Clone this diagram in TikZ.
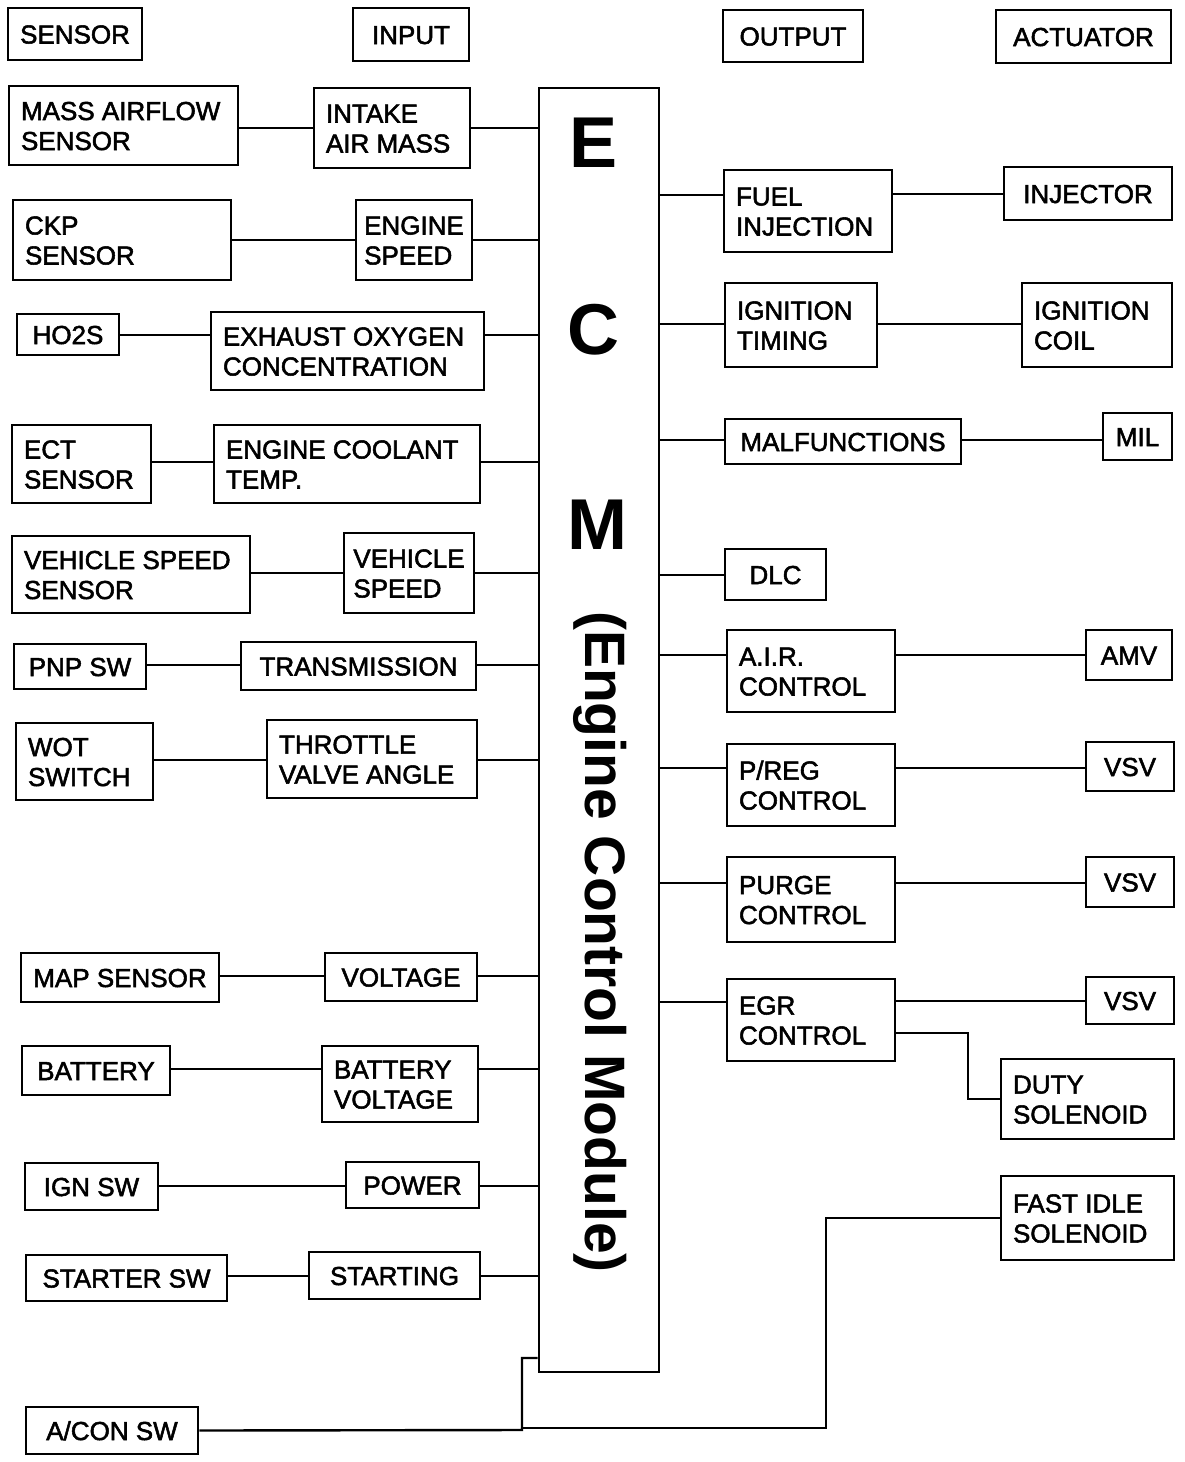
\documentclass[tikz,border=0pt]{standalone}
\usepackage{fontspec}
\setmainfont{Liberation Sans}
\newfontfamily\bxfont[FakeBold=2]{Liberation Sans}
\newcommand\bxn[7][l]{%
  \pgfmathsetlengthmacro\bw{#5-#3-24}%
  \node[bx, minimum width={#5-#3}, minimum height={#6-#4}] (#2) at ({(#3+#5)/2},{(#4+#6)/2})
    {\raisebox{-3.5pt}[\height][\depth]{\makebox[\bw][#1]{\begin{tabular}{@{}l@{}}#7\end{tabular}}}};}
\begin{document}
\begin{tikzpicture}[x=1pt,y=-1pt,
  bx/.style={draw, line width=2.8pt, inner sep=0pt, font=\bxfont\fontsize{26}{30}\selectfont},
  ln/.style={line width=2.4pt},
  big/.style={font=\bfseries\fontsize{72}{72}\selectfont, inner sep=0pt}]
\useasboundingbox (0,0) rectangle (1184,1462);
\fill[white] (0,0) rectangle (1184,1462);

% headers
\bxn[c]{hs}{8}{8}{142}{60}{SENSOR}
\bxn[c]{hi}{353}{8}{469}{61}{INPUT}
\bxn[c]{ho}{723}{10}{863}{62}{OUTPUT}
\bxn[c]{ha}{996}{10}{1171}{63}{ACTUATOR}

% ECM
\node[draw, line width=2.8pt, minimum width=120, minimum height=1284, inner sep=0pt] (ecm) at (599,730) {};
\node[big] (le) at (594,143) {E};
\node[big] (lc) at (593,330) {C};
\node[big] (lm) at (597,525) {M};
\node[rotate=-90, font=\bfseries\fontsize{57}{60}\selectfont, inner sep=0pt] (lt) at (600,942) {(Engine Control Module)};

% left side: sensors and inputs
\bxn{maf}{9}{86}{238}{165}{MASS AIRFLOW\\SENSOR}
\bxn{iam}{314}{88}{470}{168}{INTAKE\\AIR MASS}
\bxn{ckp}{13}{200}{231}{280}{CKP\\SENSOR}
\bxn[c]{esp}{356}{200}{472}{280}{ENGINE\\SPEED}
\bxn[c]{hos}{17}{314}{119}{355}{HO2S}
\bxn{exo}{211}{312}{484}{390}{EXHAUST OXYGEN\\CONCENTRATION}
\bxn{ect}{12}{425}{151}{503}{ECT\\SENSOR}
\bxn{ecl}{214}{425}{480}{503}{ENGINE COOLANT\\TEMP.}
\bxn{vss}{12}{536}{250}{613}{VEHICLE SPEED\\SENSOR}
\bxn[c]{vsp}{344}{533}{474}{613}{VEHICLE\\SPEED}
\bxn[c]{pnp}{14}{644}{146}{689}{PNP SW}
\bxn[c]{trn}{241}{642}{476}{690}{TRANSMISSION}
\bxn{wot}{16}{723}{153}{800}{WOT\\SWITCH}
\bxn{tva}{267}{720}{477}{798}{THROTTLE\\VALVE ANGLE}
\bxn[c]{map}{21}{953}{219}{1002}{MAP SENSOR}
\bxn[c]{vol}{325}{953}{477}{1001}{VOLTAGE}
\bxn[c]{bat}{22}{1046}{170}{1095}{BATTERY}
\bxn{bav}{322}{1046}{478}{1122}{BATTERY\\VOLTAGE}
\bxn[c]{ign}{25}{1163}{158}{1210}{IGN SW}
\bxn[c]{pow}{346}{1162}{479}{1208}{POWER}
\bxn[c]{sts}{26}{1255}{227}{1301}{STARTER SW}
\bxn[c]{stg}{309}{1252}{480}{1299}{STARTING}
\bxn[c]{acs}{26}{1407}{198}{1454}{A/CON SW}

% right side: outputs and actuators
\bxn{fij}{724}{170}{892}{252}{FUEL\\INJECTION}
\bxn[c]{inj}{1004}{167}{1172}{220}{INJECTOR}
\bxn{igt}{725}{283}{877}{367}{IGNITION\\TIMING}
\bxn{igc}{1022}{283}{1172}{367}{IGNITION\\COIL}
\bxn[c]{mal}{725}{419}{961}{464}{MALFUNCTIONS}
\bxn[c]{mil}{1103}{413}{1172}{460}{MIL}
\bxn[c]{dlc}{725}{549}{826}{600}{DLC}
\bxn{air}{727}{630}{895}{712}{A.I.R.\\CONTROL}
\bxn[c]{amv}{1086}{630}{1172}{680}{AMV}
\bxn{prg}{727}{744}{895}{826}{P/REG\\CONTROL}
\bxn[c]{vsa}{1086}{742}{1174}{791}{VSV}
\bxn{pur}{727}{857}{895}{942}{PURGE\\CONTROL}
\bxn[c]{vsb}{1086}{857}{1174}{907}{VSV}
\bxn{egr}{727}{979}{895}{1061}{EGR\\CONTROL}
\bxn[c]{vsc}{1086}{977}{1174}{1024}{VSV}
\bxn{dty}{1001}{1059}{1174}{1139}{DUTY\\SOLENOID}
\bxn{fis}{1001}{1176}{1174}{1260}{FAST IDLE\\SOLENOID}

% left connectors
\foreach \s/\i/\y in {maf/iam/128, ckp/esp/240, hos/exo/335, ect/ecl/462, vss/vsp/573,
    pnp/trn/665, wot/tva/760, map/vol/976, bat/bav/1069, ign/pow/1186, sts/stg/1276} {
  \draw[ln] (\s.east |- 0,\y) -- (\i.west |- 0,\y);
  \draw[ln] (\i.east |- 0,\y) -- (ecm.west |- 0,\y);
}

% right connectors
\foreach \o/\y in {fij/195, igt/324, mal/440, dlc/575, air/655, prg/768, pur/883, egr/1002} {
  \draw[ln] (ecm.east |- 0,\y) -- (\o.west |- 0,\y);
}
\foreach \o/\a/\y in {fij/inj/194, igt/igc/324, mal/mil/440, air/amv/655, prg/vsa/768, pur/vsb/883, egr/vsc/1001} {
  \draw[ln] (\o.east |- 0,\y) -- (\a.west |- 0,\y);
}

% EGR to duty solenoid
\coordinate (jd) at (968,1033);
\draw[ln] (egr.east |- jd) -- (jd) -- (jd |- dty.west) -- (dty.west);

% A/CON SW to ECM and fast idle solenoid
\coordinate (ja) at (522,1430);
\coordinate (jb) at (826,1428);
\coordinate (je) at (ecm.west |- 0,1358);
\draw[ln] (acs.east) -- (ja) -- (ja |- je) -- (je);
\draw[ln] (ja |- jb) -- (jb) -- (jb |- 0,1218) -- (fis.west |- 0,1218);
\end{tikzpicture}
\end{document}
